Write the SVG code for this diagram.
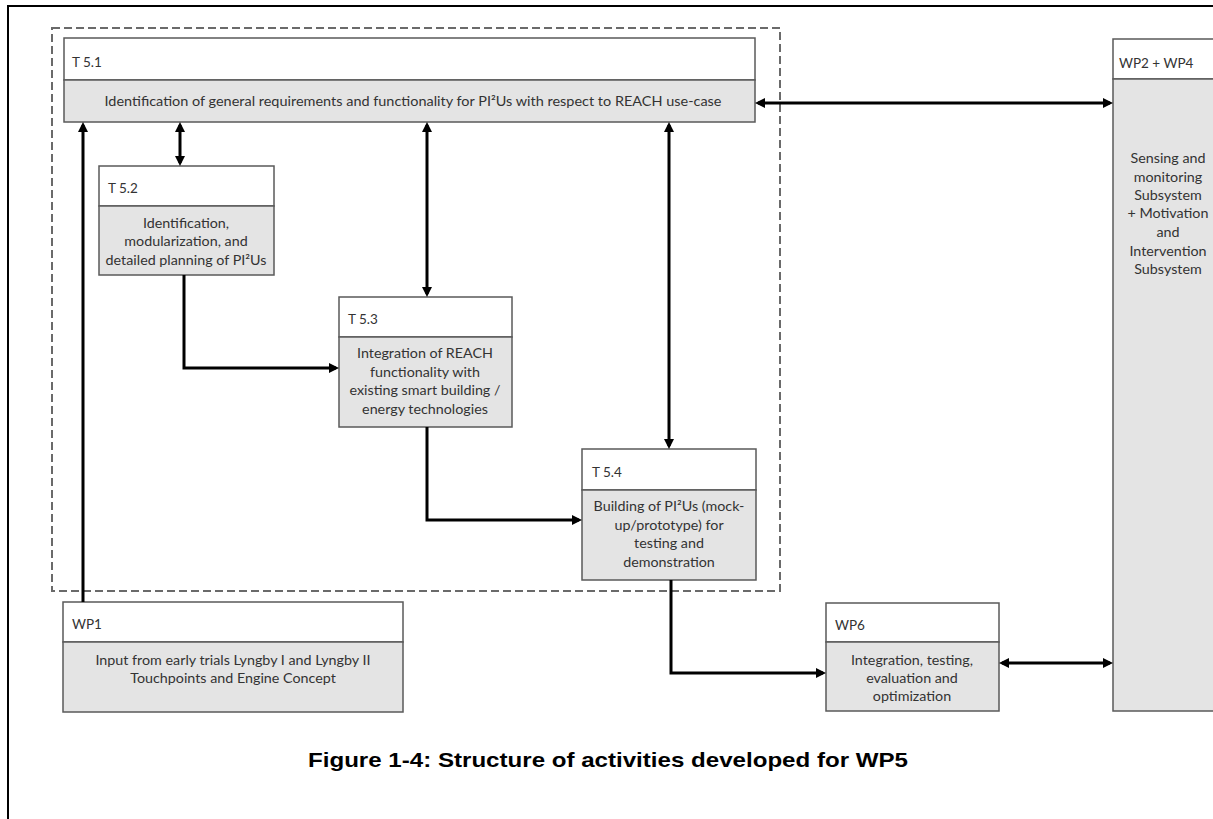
<svg xmlns="http://www.w3.org/2000/svg" width="1213" height="819" viewBox="0 0 1213 819">
  <style>
    .hdr { fill: #ffffff; stroke: #5a5a5a; stroke-width: 1.5; }
    .body { fill: #e4e4e4; stroke: #5a5a5a; stroke-width: 1.5; }
    .lbl { font-family: Lato, "Open Sans", "Liberation Sans", sans-serif; font-size: 13.5px; fill: #333333; }
    .txt { font-family: Lato, "Open Sans", "Liberation Sans", sans-serif; font-size: 14.3px; fill: #333333; text-anchor: middle; }
    .conn { fill: none; stroke: #000000; stroke-width: 3; }
    .caption { font-family: "Liberation Sans", Arial, sans-serif; font-size: 21px; font-weight: bold; fill: #000000; text-anchor: middle; }
  </style>
  <defs>
    <marker id="arrow" viewBox="0 0 10 10" refX="7" refY="5" markerWidth="10" markerHeight="10" markerUnits="userSpaceOnUse" orient="auto-start-reverse">
      <path d="M0,0 L10,5 L0,10 z" fill="#000000"/>
    </marker>
  </defs>

  <rect width="1213" height="819" fill="#ffffff"/>

  <!-- page frame (top and left edges) -->
  <path d="M8,819 V6 H1213" fill="none" stroke="#000000" stroke-width="2"/>

  <!-- WP5 boundary -->
  <rect x="52" y="28" width="728" height="563" fill="none" stroke="#6a6a6a" stroke-width="2" stroke-dasharray="8 4"/>

  <g id="t51">
    <rect class="hdr" x="64" y="38" width="691" height="42"/>
    <rect class="body" x="64" y="80" width="691" height="42"/>
    <text class="lbl" x="72" y="67">T 5.1</text>
    <text class="txt" x="413" y="106" textLength="617" lengthAdjust="spacingAndGlyphs">Identification of general requirements and functionality for PI²Us with respect to REACH use-case</text>
  </g>

  <g id="t52">
    <rect class="hdr" x="99" y="166" width="175" height="40"/>
    <rect class="body" x="99" y="206" width="175" height="69"/>
    <text class="lbl" x="108" y="193">T 5.2</text>
    <text class="txt" x="186" y="228">Identification,</text>
    <text class="txt" x="186" y="246">modularization,  and</text>
    <text class="txt" x="186" y="265">detailed planning of PI²Us</text>
  </g>

  <g id="t53">
    <rect class="hdr" x="339" y="297" width="173" height="40"/>
    <rect class="body" x="339" y="337" width="173" height="90"/>
    <text class="lbl" x="348" y="324">T 5.3</text>
    <text class="txt" x="425" y="358">Integration of REACH</text>
    <text class="txt" x="425" y="377">functionality with</text>
    <text class="txt" x="425" y="395">existing smart building /</text>
    <text class="txt" x="425" y="414">energy technologies</text>
  </g>

  <g id="t54">
    <rect class="hdr" x="582" y="449" width="174" height="41"/>
    <rect class="body" x="582" y="490" width="174" height="90"/>
    <text class="lbl" x="592" y="477">T 5.4</text>
    <text class="txt" x="669" y="511">Building of PI²Us (mock-</text>
    <text class="txt" x="669" y="530">up/prototype)  for</text>
    <text class="txt" x="669" y="548">testing and</text>
    <text class="txt" x="669" y="567">demonstration</text>
  </g>

  <g id="wp1">
    <rect class="hdr" x="63" y="602" width="340" height="40"/>
    <rect class="body" x="63" y="642" width="340" height="70"/>
    <text class="lbl" x="72" y="629">WP1</text>
    <text class="txt" x="233" y="665">Input from early trials Lyngby I and Lyngby II</text>
    <text class="txt" x="233" y="683">Touchpoints and Engine Concept</text>
  </g>

  <g id="wp6">
    <rect class="hdr" x="826" y="603" width="173" height="39"/>
    <rect class="body" x="826" y="642" width="173" height="69"/>
    <text class="lbl" x="835" y="630">WP6</text>
    <text class="txt" x="912" y="665">Integration, testing,</text>
    <text class="txt" x="912" y="683">evaluation and</text>
    <text class="txt" x="912" y="701">optimization</text>
  </g>

  <g id="wp2wp4">
    <rect class="hdr" x="1113" y="39" width="112" height="40"/>
    <rect class="body" x="1113" y="79" width="112" height="632"/>
    <text class="lbl" x="1119" y="68">WP2 + WP4</text>
    <text class="txt" x="1168" y="163">Sensing and</text>
    <text class="txt" x="1168" y="182">monitoring</text>
    <text class="txt" x="1168" y="200">Subsystem</text>
    <text class="txt" x="1168" y="218">+ Motivation</text>
    <text class="txt" x="1168" y="237">and</text>
    <text class="txt" x="1168" y="256">Intervention</text>
    <text class="txt" x="1168" y="274">Subsystem</text>
  </g>

  <g id="connectors">
    <!-- WP1 feeds T 5.1 -->
    <path class="conn" d="M83,602 V125" marker-end="url(#arrow)"/>
    <!-- T 5.1 exchanges with T 5.2 / T 5.3 / T 5.4 -->
    <path class="conn" d="M180,125 V163" marker-start="url(#arrow)" marker-end="url(#arrow)"/>
    <path class="conn" d="M427,125 V294" marker-start="url(#arrow)" marker-end="url(#arrow)"/>
    <path class="conn" d="M669,125 V446" marker-start="url(#arrow)" marker-end="url(#arrow)"/>
    <!-- T 5.1 exchanges with WP2 + WP4 -->
    <path class="conn" d="M758,103 H1110" marker-start="url(#arrow)" marker-end="url(#arrow)"/>
    <!-- task chain -->
    <path class="conn" d="M184,275 V368 H336" marker-end="url(#arrow)"/>
    <path class="conn" d="M427,427 V520 H579" marker-end="url(#arrow)"/>
    <path class="conn" d="M671,580 V673 H823" marker-end="url(#arrow)"/>
    <!-- WP6 exchanges with WP2 + WP4 -->
    <path class="conn" d="M1002,663 H1110" marker-start="url(#arrow)" marker-end="url(#arrow)"/>
  </g>

  <text class="caption" x="608" y="767" textLength="600" lengthAdjust="spacingAndGlyphs">Figure 1-4: Structure of activities developed for WP5</text>
</svg>
